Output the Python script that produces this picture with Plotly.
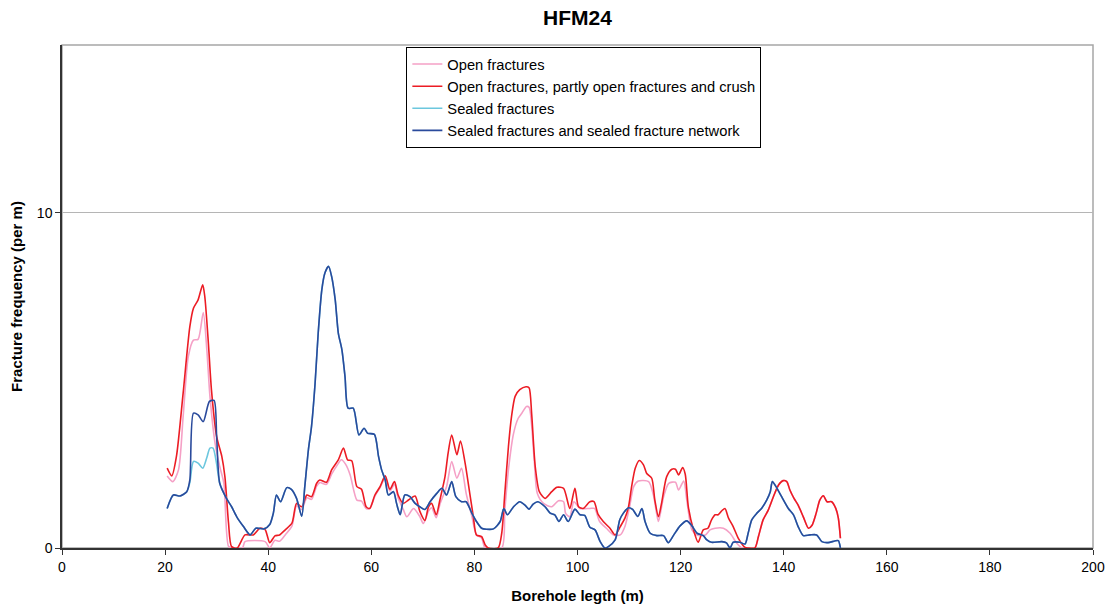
import plotly.graph_objects as go

# ---------------- data ----------------
open_x = [20.4, 21.5, 22.6, 23.5, 24.5, 25.5, 26.4, 27.4, 28.1, 28.7, 29.7, 30.6, 31.4, 32.3, 33.0, 35.0,
          35.5, 39.4, 40.3, 41.3, 42.2, 43.3, 44.6, 45.5, 46.5, 47.5, 48.4, 49.4, 50.0, 51.3, 52.3, 53.3,
          54.2, 55.0, 55.9, 57.2, 58.1, 59.0, 59.7, 60.7, 61.7, 62.7, 63.6, 64.5, 65.2, 66.2, 66.9, 68.2,
          69.4, 70.1, 71.1, 71.7, 72.6, 73.3, 74.6, 75.6, 76.6, 77.5, 78.4, 79.5, 80.4, 81.4, 82.1, 85.3,
          85.9, 86.6, 87.6, 88.5, 89.2, 90.1, 90.6, 91.6, 92.2, 93.4, 95.0, 96.3, 97.3, 97.7, 98.5, 99.3,
          100.5, 102.4, 103.3, 104.3, 105.6, 107.0, 108.3, 109.2, 110.1, 110.9, 111.8, 113.8, 114.8, 115.7,
          116.7, 117.7, 119.0, 119.6, 120.6, 121.2, 122.2, 123.2, 124.8, 125.7, 126.7, 128.3, 129.6, 130.9,
          131.9, 134.4, 135.1, 136.0, 137.0, 138.0, 139.0, 139.9, 140.6, 141.2, 142.0, 142.8, 143.8, 144.8,
          145.5, 146.3, 147.0, 147.7, 148.4, 149.3, 150.1, 150.6, 151.0]
open_y = [2.15, 1.98, 2.33, 3.92, 5.71, 6.2, 6.22, 7.02, 5.9, 4.52, 3.12, 2.43, 1.93, 0.05, 0.0, 0.0,
          0.19, 0.19, 0.0, 0.23, 0.2, 0.39, 0.65, 1.25, 1.15, 1.5, 1.45, 1.85, 1.95, 1.9, 2.2, 2.45,
          2.63, 2.5, 2.18, 1.43, 1.4, 1.18, 1.18, 1.55, 1.8, 2.1, 1.7, 1.9, 1.5, 1.15, 0.93, 1.18,
          0.94, 0.73, 1.1, 1.2, 0.9, 1.3, 1.83, 2.58, 2.08, 2.38, 1.63, 0.95, 0.39, 0.3, 0.0, 0.0,
          1.13, 2.33, 3.42, 3.87, 4.02, 4.22, 4.2, 2.63, 1.63, 1.33, 1.23, 1.41, 1.38, 1.03, 0.93, 1.38,
          1.18, 1.18, 1.18, 0.79, 0.59, 0.39, 0.39, 0.64, 1.23, 1.83, 2.0, 1.98, 1.53, 0.79,
          1.53, 1.93, 1.96, 1.73, 2.0, 1.43, 0.54, 0.39, 0.39, 0.54, 0.59, 0.59, 0.44, 0.14,
          0.0, 0.0, 0.34, 0.84, 1.13, 1.53, 1.88, 2.01, 1.98, 1.73, 1.48, 1.28, 0.93, 0.59,
          0.68, 1.04, 1.43, 1.56, 1.38, 1.38, 1.18, 0.89, 0.29]

crush_x = [20.4, 21.3, 22.2, 23.5, 24.8, 25.5, 26.4, 27.3, 27.7, 28.4, 29.0, 30.0, 31.0, 31.6, 32.3, 32.9,
           34.0, 35.5, 37.1, 38.4, 39.4, 40.3, 41.3, 42.2, 43.3, 44.6, 45.5, 46.5, 47.5, 48.4, 49.4, 50.0,
           51.3, 52.3, 53.6, 54.6, 55.4, 56.2, 57.2, 58.1, 59.0, 59.7, 60.7, 61.7, 62.7, 63.6, 64.5, 65.2,
           66.2, 67.2, 68.5, 69.4, 70.4, 71.1, 71.7, 72.6, 73.3, 74.3, 74.9, 75.6, 76.6, 77.3, 78.2, 79.1,
           79.8, 80.4, 81.4, 82.1, 82.7, 84.6, 85.3, 85.9, 86.6, 87.2, 87.9, 88.8, 90.0, 90.6, 91.1, 91.8,
           92.6, 93.7, 95.0, 96.0, 97.3, 98.5, 99.5, 100.2, 101.1, 102.4, 103.2, 104.0, 105.0, 106.3, 107.3,
           108.3, 109.2, 109.9, 110.5, 111.2, 112.0, 112.8, 113.4, 114.4, 115.0, 115.7, 116.3, 117.3, 118.3,
           119.0, 119.6, 120.4, 120.9, 121.5, 122.5, 123.4, 124.4, 125.3, 126.0, 126.7, 127.3, 128.0, 128.6,
           129.3, 130.2, 131.2, 132.5, 133.1, 134.4, 135.1, 136.0, 137.0, 138.0, 139.0, 139.9, 140.6, 141.2,
           142.0, 142.8, 143.8, 144.8, 145.5, 146.3, 147.0, 147.7, 148.4, 149.3, 150.1, 150.6, 151.0]
crush_y = [2.38, 2.15, 2.73, 4.62, 6.6, 7.15, 7.4, 7.85, 7.5, 6.1, 4.7, 3.32, 2.73, 2.13, 0.75, 0.04,
           0.0, 0.39, 0.39, 0.59, 0.55, 0.16, 0.36, 0.39, 0.54, 0.74, 1.33, 1.23, 1.58, 1.53, 1.93, 2.03,
           1.96, 2.33, 2.63, 2.98, 2.63, 2.6, 1.83, 1.75, 1.23, 1.18, 1.58, 1.83, 2.15, 1.75, 1.98, 1.58,
           1.33, 1.43, 1.55, 1.1, 0.82, 1.23, 1.33, 0.99, 1.43, 2.13, 2.83, 3.37, 2.78, 3.19, 2.53, 1.63,
           0.93, 0.39, 0.34, 0.09, 0.0, 0.0, 0.44, 1.63, 3.02, 3.92, 4.52, 4.72, 4.81, 4.78, 4.02, 2.43,
           1.68, 1.48, 1.68, 1.81, 1.78, 1.18, 1.78, 1.23, 1.18, 1.38, 1.38, 1.0, 0.79, 0.59, 0.39,
           0.64, 0.89, 1.23, 1.83, 2.38, 2.61, 2.48, 2.23, 2.08, 1.43, 0.93, 1.33, 2.13, 2.35,
           2.35, 2.18, 2.4, 2.2, 1.23, 0.54, 0.17, 0.54, 0.59, 0.84, 0.99, 0.99, 1.11, 1.18,
           0.89, 0.64, 0.29, 0.02, 0.0, 0.0, 0.34, 0.84, 1.13, 1.53, 1.88, 2.01, 1.98, 1.73,
           1.48, 1.28, 0.93, 0.59, 0.68, 1.04, 1.43, 1.56, 1.38, 1.38, 1.18, 0.89, 0.29]

network_x = [20.4, 21.6, 22.9, 24.2, 24.8, 25.5, 26.4, 27.4, 28.6, 29.5, 30.0, 30.6, 31.9, 32.9, 33.9, 35.2,
             36.5, 37.6, 39.2, 40.3, 41.0, 41.6, 42.4, 43.6, 44.5, 45.5, 46.5, 47.1, 47.8, 48.4, 49.1, 49.7,
             50.4, 51.0, 51.7, 52.3, 53.0, 53.6, 54.3, 54.9, 55.5, 56.5, 57.6, 58.6, 59.3, 60.6, 61.4, 62.0,
             62.7, 63.3, 64.3, 64.9, 65.6, 66.5, 67.5, 68.5, 69.4, 70.4, 71.4, 72.7, 73.7, 74.6, 75.6, 76.4,
             77.5, 78.4, 79.5, 80.4, 81.4, 82.3, 83.7, 85.0, 85.7, 86.4, 87.6, 88.8, 89.8, 90.6, 91.4, 92.3,
             93.7, 94.7, 95.6, 96.4, 97.3, 98.2, 99.5, 100.5, 101.4, 102.4, 103.4, 104.4, 105.3, 106.0, 107.3,
             108.2, 108.9, 109.9, 110.7, 111.7, 112.5, 113.1, 114.1, 115.4, 116.7, 117.6, 118.6, 119.9, 121.2,
             122.2, 123.2, 124.4, 125.1, 126.0, 128.0, 128.9, 129.6, 130.2, 131.5, 132.5, 133.1, 133.8, 134.8,
             135.7, 136.7, 137.4, 137.8, 138.7, 139.6, 140.9, 141.9, 142.8, 143.8, 145.1, 146.4, 147.4, 148.6,
             149.9, 150.6, 151.0]
network_y = [1.18, 1.58, 1.55, 1.68, 2.03, 4.02, 3.97, 3.77, 4.37, 4.4, 3.32, 1.93, 1.48, 1.23, 0.93, 0.64,
             0.39, 0.59, 0.57, 0.7, 1.04, 1.58, 1.38, 1.8, 1.75, 1.48, 0.95, 1.83, 2.93, 3.62, 4.92, 6.41,
             7.7, 8.2, 8.4, 8.1, 7.4, 6.41, 5.91, 5.11, 4.17, 4.17, 3.37, 3.57, 3.42, 3.39, 2.73, 2.33,
             2.03, 1.58, 1.68, 1.33, 0.99, 1.58, 1.53, 1.33, 1.23, 1.15, 1.38, 1.63, 1.78, 1.58, 1.98, 1.53,
             1.38, 1.38, 1.04, 0.79, 0.59, 0.56, 0.57, 0.79, 1.18, 0.99, 1.23, 1.38, 1.28, 1.16, 1.31, 1.38,
             1.23, 1.04, 0.99, 0.79, 0.99, 0.79, 1.16, 0.99, 0.97, 0.62, 0.54, 0.19, 0.0, 0.04, 0.24,
             0.84, 1.04, 1.2, 1.15, 0.94, 1.18, 0.79, 0.44, 0.37, 0.37, 0.16, 0.37, 0.66, 0.81,
             0.66, 0.44, 0.37, 0.24, 0.17, 0.19, 0.15, 0.0, 0.17, 0.17, 0.12, 0.44, 0.84, 1.04,
             1.18, 1.43, 1.68, 1.98, 1.78, 1.53, 1.18, 0.99, 0.64, 0.37, 0.39, 0.39, 0.19, 0.16,
             0.21, 0.22, 0.0]

# Sealed fractures only differ from the network curve around 24-31 m
sealed_mid_x = [24.8, 25.5, 26.4, 27.3, 28.1, 28.7, 29.3, 30.0]
sealed_mid_y = [1.95, 2.58, 2.53, 2.38, 2.7, 2.98, 2.98, 2.5]
sealed_x = network_x[:4] + sealed_mid_x + network_x[11:]
sealed_y = network_y[:4] + sealed_mid_y + network_y[11:]

series_names = ["Open fractures",
                "Open fractures, partly open fractures and crush",
                "Sealed fractures",
                "Sealed fractures and sealed fracture network"]
series_colors = ["#F5A0C6", "#EC1C24", "#6CC7DE", "#2A4A9C"]

x_ticks = [0, 20, 40, 60, 80, 100, 120, 140, 160, 180, 200]
y_ticks = [0, 10]

# ---------------- figure ----------------
FONT = "Arial, 'Liberation Sans', sans-serif"
fig = go.Figure()
for xs, ys, name, col in zip([open_x, crush_x, sealed_x, network_x],
                             [open_y, crush_y, sealed_y, network_y],
                             series_names, series_colors):
    fig.add_trace(go.Scatter(x=xs, y=ys, mode="lines", name=name,
                             line=dict(color=col, width=1.6, shape="spline", smoothing=0.7)))

# gray frame (top/right borders)
fig.add_shape(type="rect", xref="paper", yref="paper", x0=0, y0=0, x1=1, y1=1,
              line=dict(color="#A6A6A6", width=1.5), layer="below")

fig.update_layout(
    width=1114, height=610,
    margin=dict(l=62, r=21, t=45, b=62, autoexpand=False),
    paper_bgcolor="white", plot_bgcolor="white",
    font=dict(family=FONT, size=14, color="black"),
    title=dict(text="<b>HFM24</b>", x=0.5, xref="paper", xanchor="center",
               y=1 - 18 / 610, yref="container", yanchor="middle",
               font=dict(size=21, family=FONT, color="black")),
    showlegend=True,
    legend=dict(x=0.334, y=0.996, xanchor="left", yanchor="top",
                bgcolor="white", bordercolor="black", borderwidth=1,
                font=dict(size=14.7, family=FONT, color="black"),
                tracegroupgap=0),
)
fig.update_xaxes(range=[0, 200], tickvals=x_ticks, ticktext=[str(v) for v in x_ticks],
                 showgrid=False, zeroline=False, showline=True, linecolor="#333333", linewidth=1.5,
                 ticks="outside", ticklen=5, tickcolor="#333333", tickwidth=1,
                 tickfont=dict(size=14, family=FONT, color="black"),
                 title=dict(text="<b>Borehole legth (m)</b>", standoff=17,
                            font=dict(size=15, family=FONT, color="black")))
fig.update_yaxes(range=[0, 15], tickvals=y_ticks, ticktext=[str(v) for v in y_ticks],
                 showgrid=True, gridcolor="#B5B5B5", gridwidth=1, zeroline=False,
                 showline=True, linecolor="#333333", linewidth=1.5,
                 ticks="outside", ticklen=5, tickcolor="#333333", tickwidth=1,
                 tickfont=dict(size=14, family=FONT, color="black"),
                 title=dict(text="<b>Fracture frequency (per m)</b>", standoff=11,
                            font=dict(size=15, family=FONT, color="black")))

fig.write_html("out.html", config={"displayModeBar": False},
               post_script="document.body.style.margin='0';document.body.style.padding='0';")
